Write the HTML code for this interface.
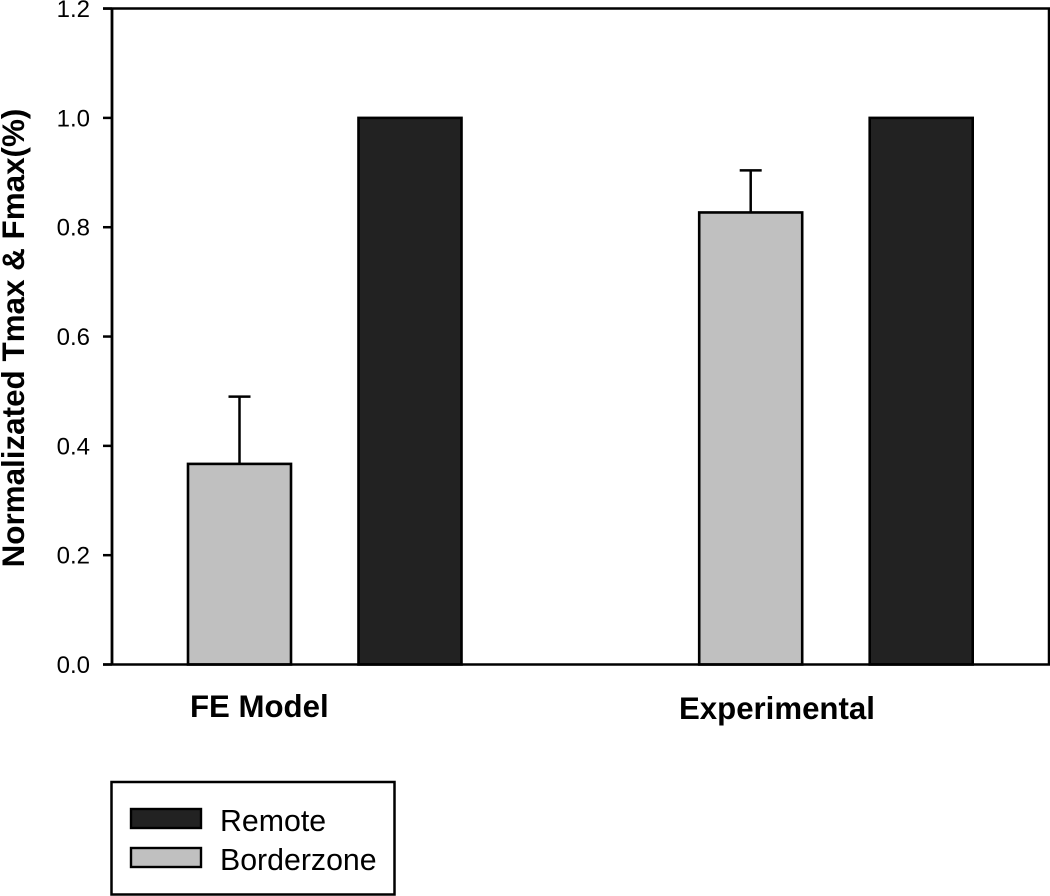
<!DOCTYPE html>
<html>
<head>
<meta charset="utf-8">
<title>Normalized Tmax and Fmax bar chart</title>
<style>
html,body{margin:0;padding:0;background:#fff;width:1050px;height:896px;overflow:hidden}
svg{display:block}
text{font-family:"Liberation Sans",Arial,sans-serif;fill:#000}
.tick{font-size:24px}
.cat{font-size:31.2px;font-weight:bold}
.leg{font-size:30.3px}
</style>
</head>
<body>
<svg id="chart" xmlns="http://www.w3.org/2000/svg" width="1050" height="896" viewBox="0 0 1050 896">
<rect x="0" y="0" width="1050" height="896" fill="#fff"/>
<g id="marks"></g>
<g id="axis"></g>
<line x1="103" y1="8.5" x2="1050" y2="8.5" stroke="#000" stroke-width="2.5"/>
<line x1="1049" y1="8" x2="1049" y2="665" stroke="#000" stroke-width="2.5"/>
<line x1="112" y1="8" x2="112" y2="665" stroke="#000" stroke-width="2.8"/>
<line x1="103" y1="664.5" x2="1050" y2="664.5" stroke="#000" stroke-width="2.5"/>
<text transform="translate(24,338) rotate(-90)" text-anchor="middle" font-size="31.4" font-weight="bold">Normalizated Tmax &amp; Fmax(%)</text>
<text class="cat" x="190" y="717">FE Model</text>
<text class="cat" x="679" y="719">Experimental</text>
<g>
<rect x="111.5" y="782" width="283" height="112.5" fill="#fff" stroke="#000" stroke-width="2.5"/>
<rect x="131" y="809" width="70" height="19" fill="#222" stroke="#000" stroke-width="2.4"/>
<text class="leg" x="220" y="831">Remote</text>
<rect x="131" y="848" width="70" height="19" fill="#c0c0c0" stroke="#000" stroke-width="2.4"/>
<text class="leg" x="220" y="870">Borderzone</text>
</g>
</svg>
<script>
var tickValues = [0.0, 0.2, 0.4, 0.6, 0.8, 1.0, 1.2];
var tickLabels = ["0.0", "0.2", "0.4", "0.6", "0.8", "1.0", "1.2"];
var categories = ["FE Model", "Experimental"];
var borderzoneValues = [0.367, 0.827];
var borderzoneErrors = [0.123, 0.077];
var remoteValues = [1.0, 1.0];

var NS = "http://www.w3.org/2000/svg";
var marks = document.getElementById("marks");
var axis = document.getElementById("axis");

function yScale(v) { return 664.5 - v * 546.6; }
function groupX(i) { return 188 + i * 511.2; }
var barWidth = 103;
var seriesOffset = 170.5;

function make(parent, tag, attrs) {
  var el = document.createElementNS(NS, tag);
  for (var k in attrs) { el.setAttribute(k, attrs[k]); }
  parent.appendChild(el);
  return el;
}

tickValues.forEach(function (v, i) {
  var y = yScale(v);
  var t = make(axis, "line", { x1: 103, x2: 112, y1: y, y2: y, stroke: "#000", "stroke-width": 2.5 });
  
  
  var l = make(axis, "text", { x: 90, y: y + 8.5, "text-anchor": "end", "class": "tick" });
  
  
  l.textContent = tickLabels[i];
});

categories.forEach(function (c, i) {
  var x1 = groupX(i);
  var cx = x1 + barWidth / 2;
  var top = yScale(borderzoneValues[i]);
  var errTop = yScale(borderzoneValues[i] + borderzoneErrors[i]);

  var stem = make(marks, "line", { x1: cx, x2: cx, y1: top, y2: errTop, stroke: "#000", "stroke-width": 2.5 });
  
  
  var cap = make(marks, "line", { x1: cx - 11, x2: cx + 11, y1: errTop, y2: errTop, stroke: "#000", "stroke-width": 2.5 });
  
  

  var b1 = make(marks, "rect", { x: x1, y: top, width: barWidth, height: yScale(0) - top, fill: "#c0c0c0", stroke: "#000", "stroke-width": 2.6 });
  
  

  var rTop = yScale(remoteValues[i]);
  var b2 = make(marks, "rect", { x: x1 + seriesOffset, y: rTop, width: barWidth, height: yScale(0) - rTop, fill: "#222", stroke: "#000", "stroke-width": 2.6 });
  
  
});
</script>
</body>
</html>
